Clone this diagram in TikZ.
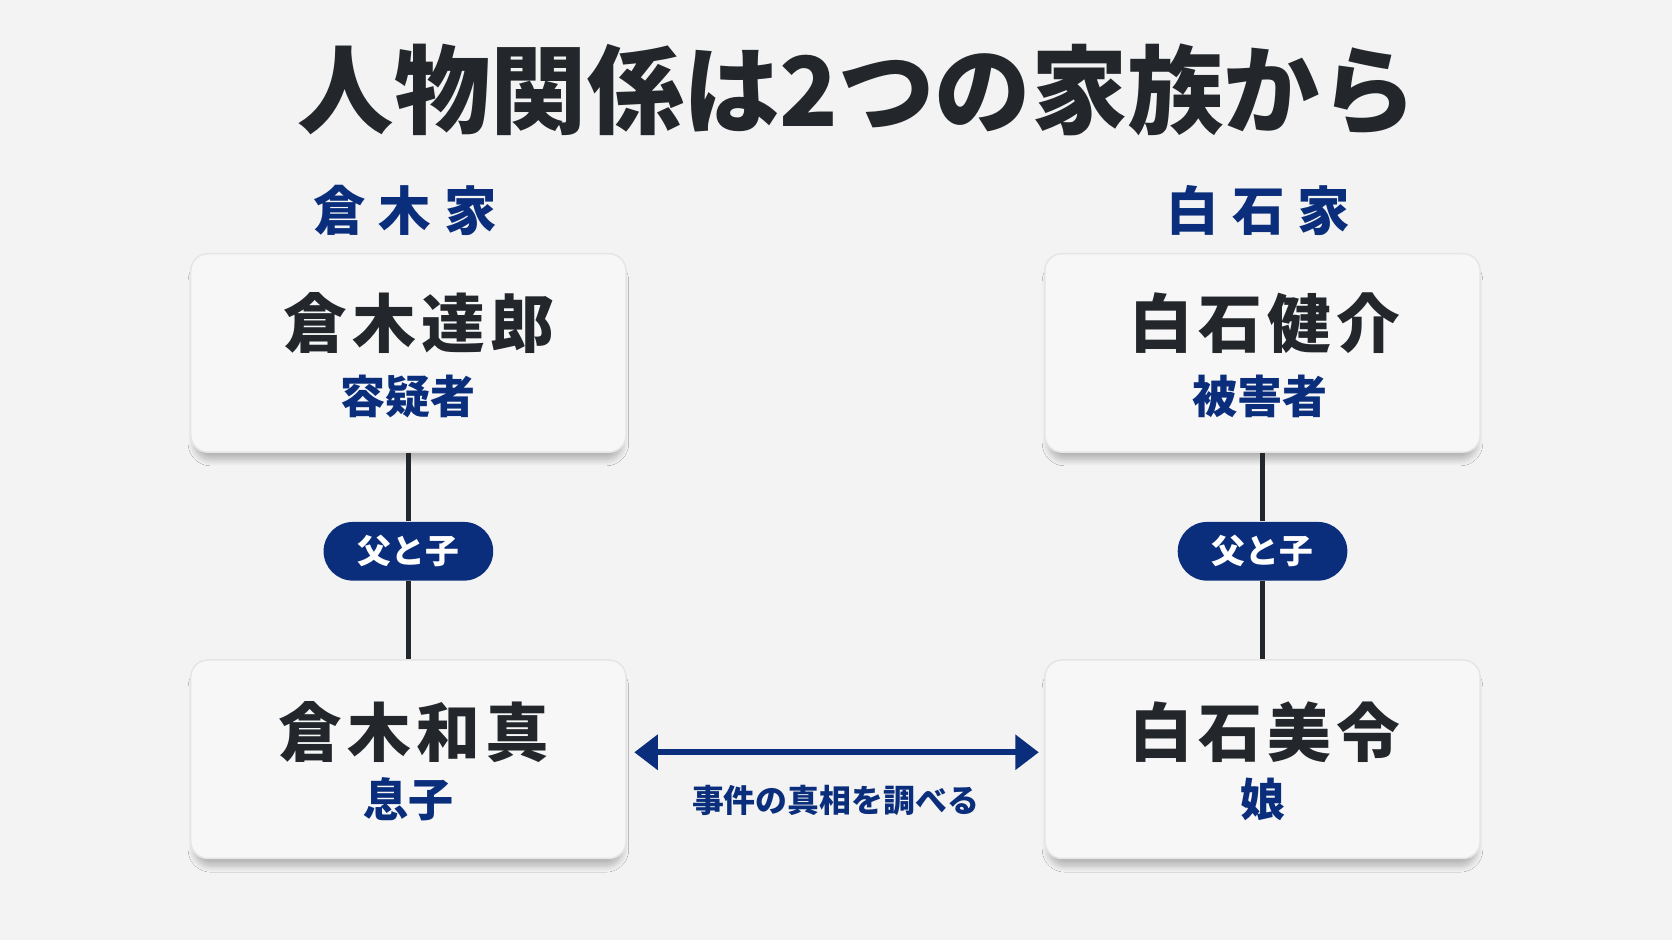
\documentclass[tikz,border=0pt]{standalone}
\usepackage{fontspec}
\usepackage{xcolor}
\usetikzlibrary{shadows.blur,arrows.meta}
\newfontfamily\jpfont{Noto Sans CJK JP}
\definecolor{navy}{HTML}{0B2E7C}
\definecolor{ink}{HTML}{23272B}
\definecolor{paper}{HTML}{F3F3F3}
\definecolor{cardfill}{HTML}{F7F7F7}
\tikzset{
  card/.style={draw=black!10,fill=cardfill,rounded corners=0.16cm,
    minimum width=4.08cm,minimum height=1.86cm,
    blur shadow={shadow xshift=0pt,shadow yshift=-2.5pt,shadow scale=0.985,
      shadow blur radius=1.6pt,shadow blur steps=8,shadow opacity=25}},
  person/.style={text=ink,font=\jpfont\bfseries\fontsize{17pt}{17pt}\selectfont},
  role/.style={text=navy,font=\jpfont\bfseries\fontsize{12pt}{12pt}\selectfont},
  family/.style={text=navy,font=\jpfont\bfseries\fontsize{14pt}{14pt}\selectfont},
  tie/.style={fill=navy,text=white,rounded corners=0.275cm,minimum width=1.59cm,
    minimum height=0.55cm,font=\jpfont\bfseries\fontsize{9pt}{9pt}\selectfont},
  link/.style={draw=ink,line width=0.04cm},
}
\begin{document}
\begin{tikzpicture}[x=0.01cm,y=-0.01cm]
\useasboundingbox (0,0) rectangle (1568,882);
\fill[paper] (0,0) rectangle (1568,882);
\node[text=ink,font=\jpfont\bfseries\fontsize{25.7pt}{25.7pt}\selectfont] (title) at (804,84) {人物関係は2つの家族から};
\path
    (380,197) node [family] (kurakike) {倉\hspace{0.25em}木\hspace{0.25em}家}
    (383,331) node [card] (tatsuro) {}
    +(10,-28) node [person] (tatsuroname) {倉\hspace{0.08em}木\hspace{0.08em}達\hspace{0.08em}郎}
    +(0,41) node [role] (tatsurorole) {容疑者}
    (383,517) node [tie] (kuratie) {父と子}
    (383,712) node [card] (kazuma) {}
    +(5,-25) node [person] (kazumaname) {倉\hspace{0.08em}木\hspace{0.08em}和\hspace{0.08em}真}
    +(0,38) node [role] (kazumarole) {息子};
\path
    (1180,197) node [family] (shiraishike) {白\hspace{0.25em}石\hspace{0.25em}家}
    (1184,331) node [card] (kensuke) {}
    +(2,-28) node [person] (kensukename) {白\hspace{0.08em}石\hspace{0.08em}健\hspace{0.08em}介}
    +(-2,41) node [role] (kensukerole) {被害者}
    (1184,517) node [tie] (shiratie) {父と子}
    (1184,712) node [card] (mirei) {}
    +(2,-25) node [person] (mireiname) {白\hspace{0.08em}石\hspace{0.08em}美\hspace{0.08em}令}
    +(0,38) node [role] (mireirole) {娘};
\draw[link] (tatsuro.south) -- (kuratie.north);
\draw[link] (kuratie.south) -- (kazuma.north);
\draw[link] (kensuke.south) -- (shiratie.north);
\draw[link] (shiratie.south) -- (mirei.north);
\draw[navy,line width=0.055cm,{Triangle[length=0.22cm,width=0.32cm]}-{Triangle[length=0.22cm,width=0.32cm]},
    shorten <=0.07cm,shorten >=0.05cm]
    ([yshift=0.065cm]kazuma.east) -- ([yshift=0.065cm]mirei.west)
    node [midway,below=0.16cm,text=navy,font=\jpfont\bfseries\fontsize{8.5pt}{8.5pt}\selectfont] (probe) {事件の真相を調べる};
\end{tikzpicture}
\end{document}
